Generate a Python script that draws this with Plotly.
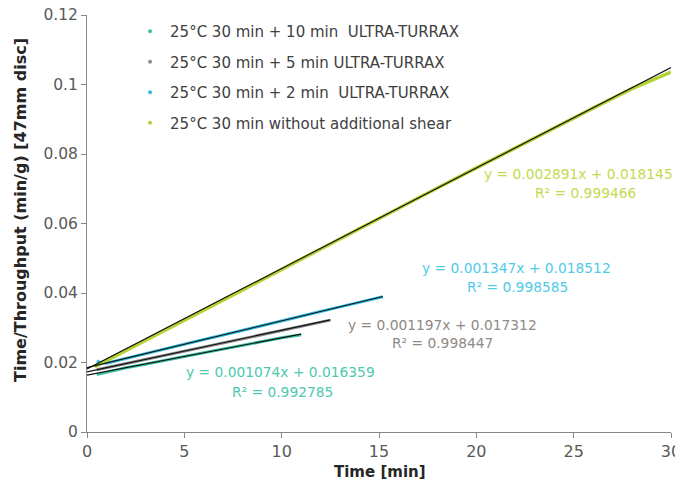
import plotly.graph_objects as go

# ---- data ----
names = [
    "25°C 30 min + 10 min \u00a0ULTRA-TURRAX",
    "25°C 30 min + 5 min ULTRA-TURRAX",
    "25°C 30 min + 2 min \u00a0ULTRA-TURRAX",
    "25°C 30 min without additional shear",
]

x_10 = [0.5, 1, 2, 3, 4, 5, 6, 7, 8, 9, 10, 11]
y_10 = [0.0165, 0.0172, 0.0185, 0.0195, 0.0207, 0.0217, 0.0228, 0.0239, 0.0249, 0.0260, 0.0271, 0.0280]

x_5 = [0.5, 1, 2, 3, 4, 5, 6, 7, 8, 9, 10, 11, 12, 12.5]
y_5 = [0.0179, 0.0185, 0.0197, 0.0209, 0.0221, 0.0233, 0.0245, 0.0257, 0.0269, 0.0281, 0.0293, 0.0305, 0.0316, 0.0322]

x_2 = [0.5, 0.7, 1, 2, 3, 4, 5, 6, 7, 8, 9, 10, 11, 12, 13, 14, 15, 15.2]
y_2 = [0.0205, 0.0200, 0.0198, 0.0212, 0.0225, 0.0239, 0.0252, 0.0266, 0.0279, 0.0293, 0.0306, 0.0320, 0.0333, 0.0347, 0.0360, 0.0374, 0.0387, 0.0389]

x_0 = [0.4, 2, 4, 6, 8, 10, 12, 14, 16, 18, 20, 22, 24, 26, 28, 30]
y_0 = [0.0188, 0.0234, 0.0292, 0.0350, 0.0409, 0.0468, 0.0527, 0.0586, 0.0644, 0.0702, 0.0760, 0.0818, 0.0876, 0.0932, 0.0988, 0.1036]

slopes = [0.001074, 0.001197, 0.001347, 0.002891]
intercepts = [0.016359, 0.017312, 0.018512, 0.018145]
r2 = [0.992785, 0.998447, 0.998585, 0.999466]
trend_x_end = [11, 12.5, 15.2, 30]

x_ticks = [0, 5, 10, 15, 20, 25, 30]
y_ticks = [0, 0.02, 0.04, 0.06, 0.08, 0.1, 0.12]
y_tick_labels = ["0", "0.02", "0.04", "0.06", "0.08", "0.1", "0.12"]

colors = ["#3cc3a6", "#8c8c8c", "#35bde0", "#b3d233"]
text_colors = ["#4dc9b0", "#8f8a86", "#4fcbe8", "#c2da4f"]

xs = [x_10, x_5, x_2, x_0]
ys = [y_10, y_5, y_2, y_0]

FONT = "DejaVu Sans"

fig = go.Figure()

# data (thick coloured lines formed by dense markers)
for i in range(4):
    fig.add_trace(go.Scatter(
        x=xs[i], y=ys[i], mode="lines",
        line=dict(color=colors[i], width=3.5 if i == 3 else 3),
        showlegend=False, hoverinfo="skip", cliponaxis=False))

# linear trend lines
for i in range(4):
    tx = [0, trend_x_end[i]]
    ty = [intercepts[i] + slopes[i] * v for v in tx]
    fig.add_trace(go.Scatter(
        x=tx, y=ty, mode="lines",
        line=dict(color="#111111", width=1.1),
        showlegend=False, hoverinfo="skip"))

# legend entries (tiny markers)
for i in range(4):
    fig.add_trace(go.Scatter(
        x=[None], y=[None], mode="markers", name=names[i],
        marker=dict(color=colors[i], size=4),
        legendgroup=f"g{i}"))

# equation labels
ann_pos = [
    ((5.0, 0.0173), (7.35, 0.0115)),
    ((13.3, 0.0308), (15.55, 0.0256)),
    ((17.1, 0.0472), (19.4, 0.0417)),
    ((20.3, 0.0742), (22.9, 0.0688)),
]
for i in range(4):
    (ex, ey), (rx, ry) = ann_pos[i]
    fig.add_annotation(x=ex, y=ey, xref="x", yref="y", xanchor="left", yanchor="middle",
                       text=f"y = {slopes[i]:.6f}x + {intercepts[i]:.6f}", showarrow=False,
                       font=dict(family=FONT, size=13.8, color=text_colors[i]))
    fig.add_annotation(x=rx, y=ry, xref="x", yref="y", xanchor="left", yanchor="middle",
                       text=f"R² = {r2[i]:.6f}", showarrow=False,
                       font=dict(family=FONT, size=13.8, color=text_colors[i]))

# axis titles
fig.add_annotation(xref="paper", yref="paper", x=0.502, y=-0.097, xanchor="center", yanchor="middle",
                   text="<b>Time [min]</b>", showarrow=False,
                   font=dict(family=FONT, size=15, color="#262626"))
fig.add_annotation(xref="paper", yref="paper", x=-0.115, y=0.532, xanchor="center", yanchor="middle",
                   text="<b>Time/Throughput (min/g) [47mm disc]</b>", showarrow=False, textangle=-90,
                   font=dict(family=FONT, size=16, color="#262626"))

fig.update_layout(
    width=667, height=479,
    margin=dict(l=79, r=4, t=7, b=55, autoexpand=False),
    paper_bgcolor="white", plot_bgcolor="white",
    font=dict(family=FONT, color="#595959"),
    legend=dict(x=0.0737, y=1.0, xanchor="left", yanchor="top",
                font=dict(family=FONT, size=15, color="#404040"),
                bgcolor="rgba(0,0,0,0)", tracegroupgap=8, itemwidth=30),
    xaxis=dict(range=[0, 30], tickvals=x_ticks, automargin=False, ticklabeloverflow="allow",
               showgrid=False, zeroline=False, showline=True, linecolor="#868686", linewidth=1,
               ticks="outside", ticklen=5, tickcolor="#868686",
               tickfont=dict(family=FONT, size=16, color="#595959")),
    yaxis=dict(range=[0, 0.12], tickvals=y_ticks, ticktext=y_tick_labels, automargin=False,
               ticklabeloverflow="allow",
               showgrid=False, zeroline=False, showline=True, linecolor="#868686", linewidth=1,
               ticks="outside", ticklen=5, tickcolor="#868686",
               tickfont=dict(family=FONT, size=15.5, color="#595959")),
)

fig.write_html("out.html")
